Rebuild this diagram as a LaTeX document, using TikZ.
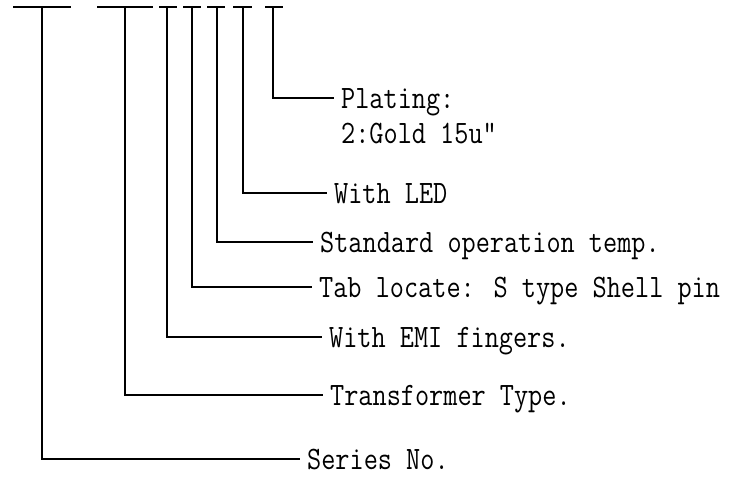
\documentclass[tikz,border=0pt]{standalone}
\usepackage{fontspec}
\newfontfamily\partfont[FakeStretch=0.84]{Latin Modern Mono}
\usetikzlibrary{positioning}
\tikzset{
  bar/.style      = {line width=1.5pt},                 % short bars over the digits
  lead/.style     = {line width=1.5pt},                 % leader lines to the texts
  field/.style    = {anchor=west, inner xsep=7pt, inner ysep=0pt,
                     text height=20pt, text depth=0pt,
                     font=\partfont\fontsize{32.7}{35}\selectfont}
}

\begin{document}
\begin{tikzpicture}[x=1pt, y=-1pt]
  \useasboundingbox (0,0) rectangle (732,480);
  % bars of the part number
  \draw[bar] (13,7) -- (71,7);
  \draw[bar] (97,7) -- (153,7);
  \foreach \a/\b in {159/177, 183/201, 207/225, 233/252, 265/283}
    \draw[bar] (\a,7) -- (\b,7);
  % where the leaders leave the bars
  \coordinate (sno)  at (42,7);
  \coordinate (trf)  at (125,7);
  \coordinate (emi)  at (167,7);
  \coordinate (tab)  at (192,7);
  \coordinate (temp) at (217,7);
  \coordinate (led)  at (243,7);
  \coordinate (plt)  at (273,7);
  % texts
  \node[field] (plating)     at (334,98)  {Plating:};
  \node[field] (gold)        at (334,133) {2:Gold 15u"};
  \node[field] (withled)     at (327,193) {With LED};
  \node[field] (standard)    at (313,242) {Standard operation temp.};
  \node[field] (tablocate)   at (312,287) {Tab locate: S type Shell pin};
  \node[field] (withemi)     at (322,337) {With EMI fingers.};
  \node[field] (transformer) at (323,395) {Transformer Type.};
  \node[field] (series)      at (300,459) {Series No.};
  % leaders
  \draw[lead] (plt)  |- (plating.west);
  \draw[lead] (led)  |- (withled.west);
  \draw[lead] (temp) |- (standard.west);
  \draw[lead] (tab)  |- (tablocate.west);
  \draw[lead] (emi)  |- (withemi.west);
  \draw[lead] (trf)  |- (transformer.west);
  \draw[lead] (sno)  |- (series.west);
\end{tikzpicture}
\end{document}
